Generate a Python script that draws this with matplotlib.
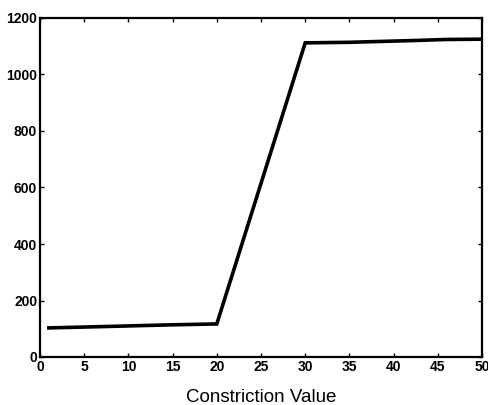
import matplotlib
matplotlib.use("Agg")
import matplotlib.pyplot as plt

x_vals = [1, 5, 10, 15, 20, 30, 35, 42, 46, 50]
y_vals = [103, 106, 110, 114, 117, 1112, 1114, 1120, 1124, 1125]
x_ticks = [0, 5, 10, 15, 20, 25, 30, 35, 40, 45, 50]
y_ticks = [0, 200, 400, 600, 800, 1000, 1200]

plt.rcParams['font.family'] = ['Liberation Sans', 'DejaVu Sans']
fig = plt.figure(figsize=(4.89, 4.05), dpi=100)
ax = fig.add_axes([40/489, 48/405, 442/489, 339/405])
ax.plot(x_vals, y_vals, color='black', linewidth=2.6, solid_joinstyle='miter')
ax.set_xlim(0, 50)
ax.set_ylim(0, 1200)
ax.set_xticks(x_ticks)
ax.set_yticks(y_ticks)
ax.tick_params(direction='in', top=True, right=True, length=3, width=1,
               labelsize=10, pad=2)
for lab in ax.get_xticklabels() + ax.get_yticklabels():
    lab.set_fontweight('bold')
for s in ax.spines.values():
    s.set_linewidth(1.6)
ax.set_xlabel('Constriction Value', fontsize=13.5, labelpad=11)
fig.savefig('out.png', dpi=100)
